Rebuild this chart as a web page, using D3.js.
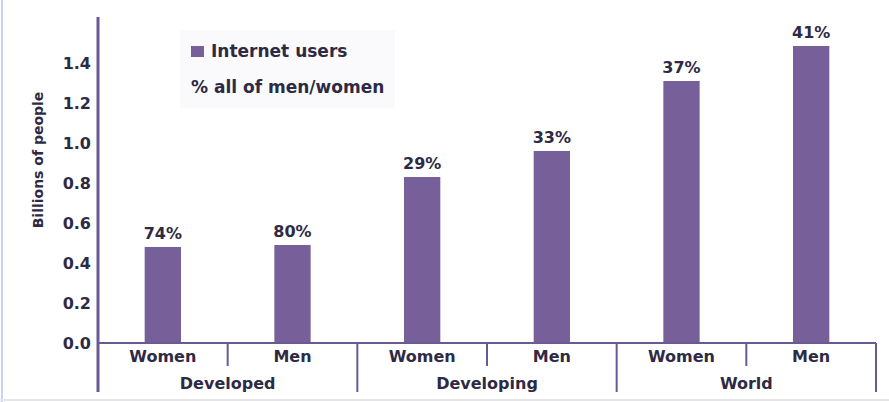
<!DOCTYPE html>
<html>
<head>
<meta charset="utf-8">
<script src="https://cdn.jsdelivr.net/npm/d3@7/dist/d3.min.js"></script>
<style>
  body { margin: 0; background: #ffffff; }
  svg text { font-family: "DejaVu Sans", sans-serif; font-weight: bold; fill: #2e2a44; }
</style>
</head>
<body>
<svg id="chart" width="889" height="402"></svg>
<script>
// data
const groups = ["Developed", "Developing", "World"];
const sexes = ["Women", "Men"];
const users = [0.48, 0.49, 0.83, 0.96, 1.31, 1.485];   // billions of people
const shares = ["74%", "80%", "29%", "33%", "37%", "41%"];
const yTicks = [0.0, 0.2, 0.4, 0.6, 0.8, 1.0, 1.2, 1.4];

const purple = "#77609a";
const axisColor = "#6a5a94";

const svg = d3.select("#chart");
const plotLeft = 98, plotRight = 876, base = 343, plotTop = 17;

// faint frame of the scanned figure
svg.append("line").attr("x1", 2).attr("x2", 2).attr("y1", 0).attr("y2", 402)
    .style("stroke", "#c9d5ee").style("stroke-width", 2);
svg.append("line").attr("x1", 0).attr("x2", 889).attr("y1", 400).attr("y2", 400)
    .style("stroke", "#e4e4ea").style("stroke-width", 2);

const cats = [];
groups.forEach(g => sexes.forEach(s => cats.push(g + "|" + s)));

const x = d3.scaleBand()
    .domain(cats)
    .range([plotLeft, plotRight])
    .paddingInner(0.72)
    .paddingOuter(0.36);

const y = d3.scaleLinear()
    .domain([0, 1])
    .range([base, base - 200]);

// y tick labels
svg.append("g").selectAll("text")
    .data(yTicks)
    .enter()
    .append("text")
    .attr("x", 91)
    .attr("y", d => y(d))
    .attr("dy", "0.36em")
    .attr("text-anchor", "end")
    .style("font-size", "16px")
    .text(d => d3.format(".1f")(d));

// y title
svg.append("text")
    .attr("transform", "translate(43,160) rotate(-90)")
    .attr("text-anchor", "middle")
    .style("font-size", "14px")
    .text("Billions of people");

// bars
svg.append("g").selectAll("rect")
    .data(users)
    .enter()
    .append("rect")
    .attr("x", (d, i) => x(cats[i]))
    .attr("width", x.bandwidth())
    .attr("y", d => y(d))
    .attr("height", d => base - y(d))
    .attr("fill", purple);

// value labels
svg.append("g").selectAll("text")
    .data(users)
    .enter()
    .append("text")
    .attr("x", (d, i) => x(cats[i]) + x.bandwidth() / 2)
    .attr("y", d => y(d) - 8)
    .attr("text-anchor", "middle")
    .style("font-size", "16px")
    .text((d, i) => shares[i]);

// axes lines
svg.append("line").attr("x1", plotLeft).attr("x2", plotLeft).attr("y1", plotTop).attr("y2", 392)
    .style("stroke", axisColor).style("stroke-width", 3);
svg.append("line").attr("x1", plotLeft).attr("x2", plotRight).attr("y1", base).attr("y2", base)
    .style("stroke", axisColor).style("stroke-width", 2);

// separators: short between sexes, long between groups
const step = x.step();
const sepData = d3.range(1, 7).map(i => ({ pos: plotLeft + i * step, long: i % 2 === 0 }));
svg.append("g").selectAll("line")
    .data(sepData)
    .enter()
    .append("line")
    .attr("x1", d => d.pos)
    .attr("x2", d => d.pos)
    .attr("y1", base)
    .attr("y2", d => d.long ? 392 : 366)
    .style("stroke", axisColor)
    .style("stroke-width", 2);

// sex labels
svg.append("g").selectAll("text")
    .data(cats)
    .enter()
    .append("text")
    .attr("x", d => x(d) + x.bandwidth() / 2)
    .attr("y", 362)
    .attr("text-anchor", "middle")
    .style("font-size", "16px")
    .text(d => d.split("|")[1]);

// group labels
svg.append("g").selectAll("text")
    .data(groups)
    .enter()
    .append("text")
    .attr("x", (d, i) => plotLeft + (i * 2 + 1) * step)
    .attr("y", 389)
    .attr("text-anchor", "middle")
    .style("font-size", "16px")
    .text(d => d);

// legend
const legend = svg.append("g");
legend.append("rect").attr("x", 180).attr("y", 30).attr("width", 215).attr("height", 78)
    .attr("fill", "#fafafc");
legend.append("rect").attr("x", 191).attr("y", 46).attr("width", 13).attr("height", 11)
    .attr("fill", purple);
legend.append("text").attr("x", 211).attr("y", 57).style("font-size", "17px")
    .text("Internet users");
legend.append("text").attr("x", 191).attr("y", 93).style("font-size", "17px")
    .text("% all of men/women");
</script>
</body>
</html>
